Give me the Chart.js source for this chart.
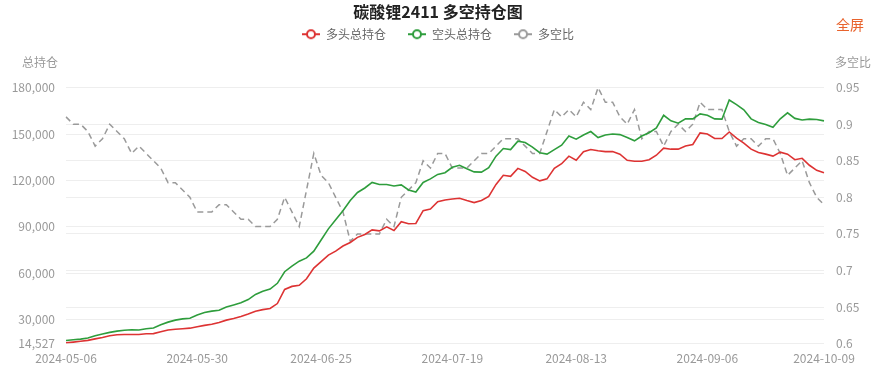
<!DOCTYPE html>
<html>
<head>
<meta charset="utf-8">
<script src="https://cdn.jsdelivr.net/npm/chart.js@4.4.1/dist/chart.umd.min.js"></script>
<style>
  body { margin: 0; background: #fff; font-family: "Noto Sans CJK SC", "Noto Sans", sans-serif; }
  #wrap { position: relative; width: 884px; height: 370px; }
  .note { position: absolute; font-size: 12px; color: #999; }
  #full { position: absolute; left: 836px; top: 14px; font-size: 14px; color: #e8632d; }
</style>
</head>
<body>
<div id="wrap">
  <canvas id="cc" width="884" height="370"></canvas>
  <div class="note" style="left:22px;top:53px;">总持仓</div>
  <div class="note" style="left:835px;top:53px;">多空比</div>
  <div id="full">全屏</div>
</div>
<script>
// trading days 2024-05-06 .. 2024-10-09
dates = ['2024-05-06','2024-05-07','2024-05-08','2024-05-09','2024-05-10','2024-05-13','2024-05-14','2024-05-15','2024-05-16','2024-05-17',
  '2024-05-20','2024-05-21','2024-05-22','2024-05-23','2024-05-24','2024-05-27','2024-05-28','2024-05-29','2024-05-30','2024-05-31',
  '2024-06-03','2024-06-04','2024-06-05','2024-06-06','2024-06-07','2024-06-11','2024-06-12','2024-06-13','2024-06-14','2024-06-17',
  '2024-06-18','2024-06-19','2024-06-20','2024-06-21','2024-06-24','2024-06-25','2024-06-26','2024-06-27','2024-06-28','2024-07-01',
  '2024-07-02','2024-07-03','2024-07-04','2024-07-05','2024-07-08','2024-07-09','2024-07-10','2024-07-11','2024-07-12','2024-07-15',
  '2024-07-16','2024-07-17','2024-07-18','2024-07-19','2024-07-22','2024-07-23','2024-07-24','2024-07-25','2024-07-26','2024-07-29',
  '2024-07-30','2024-07-31','2024-08-01','2024-08-02','2024-08-05','2024-08-06','2024-08-07','2024-08-08','2024-08-09','2024-08-12',
  '2024-08-13','2024-08-14','2024-08-15','2024-08-16','2024-08-19','2024-08-20','2024-08-21','2024-08-22','2024-08-23','2024-08-26',
  '2024-08-27','2024-08-28','2024-08-29','2024-08-30','2024-09-02','2024-09-03','2024-09-04','2024-09-05','2024-09-06','2024-09-09',
  '2024-09-10','2024-09-11','2024-09-12','2024-09-13','2024-09-18','2024-09-19','2024-09-20','2024-09-23','2024-09-24','2024-09-25',
  '2024-09-26','2024-09-27','2024-09-30','2024-10-08','2024-10-09']

tickDates = ['2024-05-06','2024-05-30','2024-06-25','2024-07-19','2024-08-13','2024-09-06','2024-10-09']

// 多头总持仓
longVals = [15000,15500,16000,16600,17600,18500,19600,20200,20400,20400,
  20400,20900,21000,22200,23300,23800,24100,24500,25400,26300,
  27000,28200,29700,30700,32000,33600,35500,36500,37200,40400,
  49500,51500,52200,56400,63300,67500,71700,74300,77600,79900,
  83200,85100,88000,87400,90000,87700,93300,92000,92200,100500,
  101500,106300,107400,108000,108500,107000,105700,107000,109600,117400,
  123300,122600,127800,125800,122000,119700,121000,127800,130800,135700,
  133000,138600,140000,139200,138600,138700,137000,133000,132400,132400,
  133400,136300,140900,140200,140200,142200,143200,150700,150000,147100,
  147100,151300,147400,144100,140200,138000,137000,135700,138300,137000,
  133400,134300,129800,126500,124900]

// 空头总持仓
shortVals = [16500,17000,17400,18100,19600,20700,21800,22600,23200,23500,
  23300,24100,24600,26700,28400,29700,30500,30900,33000,34600,
  35500,36100,38200,39500,40900,43000,46300,48300,49800,53500,
  61000,64600,67800,69900,74300,81500,88700,94600,100400,107000,
  112200,115100,118700,117400,117400,116400,117100,113800,112500,118700,
  121000,123900,125000,128500,129800,127500,125500,125400,128200,135700,
  140600,139900,145400,144500,141500,137900,137000,139900,142800,148700,
  146700,149400,151600,147700,149400,150000,149600,147700,145600,148700,
  150800,153900,162100,158500,157000,159800,159800,163000,162100,159800,
  159600,172000,169000,165700,159800,157500,156200,154300,159800,163700,
  160100,159100,159600,159400,158500]

// 多空比
ratioVals = [0.91,0.90,0.90,0.89,0.87,0.88,0.90,0.89,0.88,0.86,
  0.87,0.86,0.85,0.84,0.82,0.82,0.81,0.80,0.78,0.78,
  0.78,0.79,0.79,0.78,0.77,0.77,0.76,0.76,0.76,0.77,
  0.80,0.78,0.76,0.81,0.86,0.83,0.82,0.80,0.78,0.74,
  0.75,0.75,0.75,0.75,0.77,0.76,0.80,0.81,0.82,0.85,
  0.84,0.86,0.86,0.84,0.84,0.84,0.85,0.86,0.86,0.87,
  0.88,0.88,0.88,0.87,0.86,0.86,0.89,0.92,0.91,0.92,
  0.91,0.93,0.92,0.95,0.93,0.93,0.91,0.90,0.92,0.88,
  0.89,0.89,0.87,0.89,0.90,0.89,0.90,0.93,0.92,0.92,
  0.92,0.89,0.87,0.88,0.88,0.87,0.88,0.88,0.86,0.83,
  0.84,0.85,0.82,0.80,0.79]

leftTicks = [14527,30000,60000,90000,120000,150000,180000]

redColor = '#dd3333'
greenColor = '#2e9d3c'
grayColor = '#9a9a9a'

// legend icon: short line with a hollow circle
function makeIcon(color){
  var c = document.createElement('canvas')
  c.width = 18; c.height = 12
  var g = c.getContext('2d')
  g.strokeStyle = color
  g.lineWidth = 2
  g.beginPath(); g.moveTo(0, 6); g.lineTo(18, 6); g.stroke()
  g.beginPath(); g.arc(9, 6, 4, 0, Math.PI*2)
  g.fillStyle = '#fff'; g.fill(); g.stroke()
  return c
}

chartdata = {
  labels: dates,
  datasets: [{
    label: '多头总持仓',
    data: longVals,
    borderColor: redColor,
    backgroundColor: redColor,
    borderWidth: 1.6,
    pointRadius: 0,
    pointStyle: makeIcon(redColor),
    tension: 0,
    yAxisID: 'y'
  }, {
    label: '空头总持仓',
    data: shortVals,
    borderColor: greenColor,
    backgroundColor: greenColor,
    borderWidth: 1.6,
    pointRadius: 0,
    pointStyle: makeIcon(greenColor),
    tension: 0,
    yAxisID: 'y'
  }, {
    label: '多空比',
    data: ratioVals,
    borderColor: grayColor,
    backgroundColor: grayColor,
    borderWidth: 1.5,
    borderDash: [6, 4],
    pointRadius: 0,
    pointStyle: makeIcon(grayColor),
    tension: 0,
    yAxisID: 'y1'
  }]
}

tickFont = { family: '"Noto Sans CJK SC", "Noto Sans", sans-serif', size: 12 }

config = {
  type: 'line',
  data: chartdata,
  options: {
    responsive: false,
    animation: false,
    layout: { padding: { left: 0, right: 8, top: 0, bottom: -4 } },
    plugins: {
      title: {
        display: true,
        text: '碳酸锂2411 多空持仓图',
        color: '#222',
        font: { family: '"Noto Sans CJK SC", sans-serif', size: 16, weight: 'bold' },
        padding: { top: 2, bottom: -15 }
      },
      subtitle: {
        display: true,
        text: '',
        weight: 500,
        font: { size: 12 },
        padding: { top: 23, bottom: 0 }
      },
      legend: {
        display: true,
        labels: {
          usePointStyle: true,
          pointStyleWidth: 18,
          boxHeight: 12,
          padding: 22,
          color: '#666',
          font: tickFont
        }
      },
      tooltip: { enabled: false }
    },
    scales: {
      x: {
        grid: { display: false, drawTicks: false },
        border: { display: false },
        ticks: {
          autoSkip: false,
          maxRotation: 0,
          padding: 8,
          color: '#999',
          font: tickFont,
          callback: function(v, i){
            var d = dates[i]
            return tickDates.indexOf(d) >= 0 ? d : ''
          }
        }
      },
      y: {
        position: 'left',
        min: 14527,
        max: 180000,
        grid: { color: '#eeeeee', drawTicks: false },
        border: { display: false },
        ticks: {
          padding: 11,
          color: '#999',
          font: tickFont,
          callback: function(v){ return Number(v).toLocaleString('en-US') }
        },
        afterBuildTicks: function(axis){
          axis.ticks = leftTicks.map(function(v){ return { value: v } })
        },
        afterFit: function(axis){ axis.width = 66 }
      },
      y1: {
        position: 'right',
        min: 0.6,
        max: 0.95,
        grid: { color: '#eeeeee', drawTicks: false },
        border: { display: false },
        ticks: {
          stepSize: 0.05,
          padding: 12,
          color: '#999',
          font: tickFont,
          callback: function(v){ return String(parseFloat(Number(v).toFixed(2))) }
        },
        afterFit: function(axis){ axis.width = 52 }
      }
    }
  }
}

var myChart = new Chart(document.getElementById('cc'), config)
</script>
</body>
</html>
